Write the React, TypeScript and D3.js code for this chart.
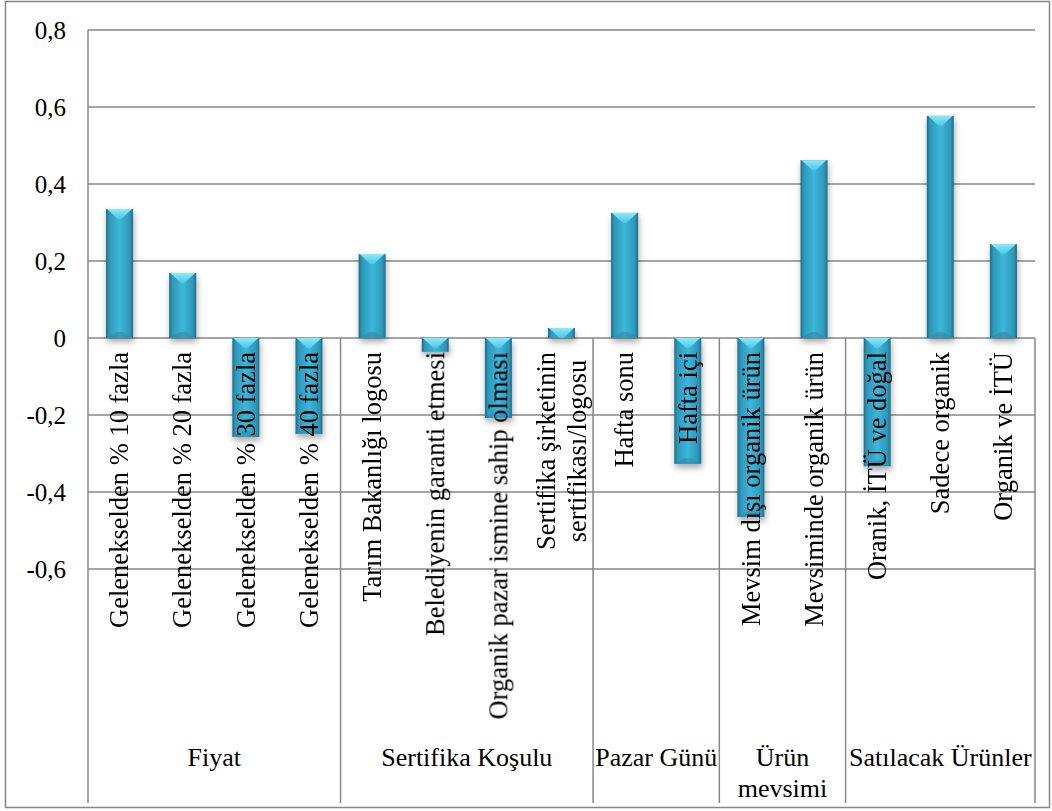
import React, { useMemo } from "react";
import * as d3 from "d3";

// Category groups (bottom level of the axis) and how many categories each spans
const groupLabels: string[][] = [
  ["Fiyat"],
  ["Sertifika Koşulu"],
  ["Pazar Günü"],
  ["Ürün", "mevsimi"],
  ["Satılacak Ürünler"],
];
const groupSizes = [4, 4, 2, 2, 3];

// Categories (rotated labels); inner arrays are wrapped lines
const categoryLabels: string[][] = [
  ["Gelenekselden % 10 fazla"],
  ["Gelenekselden % 20 fazla"],
  ["Gelenekselden % 30 fazla"],
  ["Gelenekselden % 40 fazla"],
  ["Tarım Bakanlığı logosu"],
  ["Belediyenin garanti etmesi"],
  ["Organik pazar ismine sahip olması"],
  ["Sertifika şirketinin", "sertifikası/logosu"],
  ["Hafta sonu"],
  ["Hafta içi"],
  ["Mevsim dışı organik ürün"],
  ["Mevsiminde organik ürün"],
  ["Oranik, İTÜ ve doğal"],
  ["Sadece organik"],
  ["Organik ve İTÜ"],
];

const values = [
  0.335, 0.169, -0.257, -0.249,
  0.218, -0.036, -0.208, 0.026,
  0.325, -0.327,
  -0.465, 0.462,
  -0.333, 0.577, 0.244,
];

const yTicks = [0.8, 0.6, 0.4, 0.2, 0, -0.2, -0.4, -0.6];

const W = 1052;
const H = 811;
const FONT = '"Liberation Serif", "Times New Roman", serif';
const GRID = "#878787";

const plotLeft = 88;
const plotRight = 1035;
const plotTop = 30;
const plotBottom = 569;
const dividerBottom = 803;
const labelEndY = 352;
const catFont = 26.5;
const catLineH = 31;
const groupFont = 26;
const groupBaseline = 766;
const groupLineH = 31;
const tickFont = 25;

const fmtTick = (v: number) => (v === 0 ? "0" : v.toFixed(1).replace(".", ","));

export default function App() {
  const y = useMemo(
    () => d3.scaleLinear().domain([-0.6, 0.8]).range([plotBottom, plotTop]),
    []
  );
  const x = useMemo(
    () =>
      d3
        .scaleBand<number>()
        .domain(d3.range(values.length))
        .range([plotLeft, plotRight])
        .paddingInner(0.572)
        .paddingOuter(0.286),
    []
  );
  const step = x.step();
  const bw = x.bandwidth();
  const y0 = y(0);

  // measure label lines so a multi-line block is centred per line and end-aligned as a block
  const measure = useMemo(() => {
    const ctx = document.createElement("canvas").getContext("2d")!;
    ctx.font = `${catFont}px "Liberation Serif"`;
    return (s: string) => ctx.measureText(s).width;
  }, []);

  // group boundaries in category index units
  const groupStarts: number[] = [];
  let acc = 0;
  groupSizes.forEach((n) => {
    groupStarts.push(acc);
    acc += n;
  });
  const boundaryX = (idx: number) => plotLeft + idx * step;
  const dividers = [...groupStarts, values.length].map(boundaryX);

  return (
    <svg
      width={W}
      height={H}
      viewBox={`0 0 ${W} ${H}`}
      style={{ position: "absolute", left: 0, top: 0, background: "#fff" }}
    >
      <defs>
        <linearGradient id="barBody" x1="0" x2="1" y1="0" y2="0">
          <stop offset="0%" stopColor="#1f6d87" />
          <stop offset="12%" stopColor="#2d98b9" />
          <stop offset="50%" stopColor="#3db7da" />
          <stop offset="88%" stopColor="#2d98b9" />
          <stop offset="100%" stopColor="#1f6d87" />
        </linearGradient>
        <linearGradient id="barCap" x1="0" x2="0" y1="0" y2="1">
          <stop offset="0%" stopColor="#8fe8fa" />
          <stop offset="100%" stopColor="#4cc8e6" />
        </linearGradient>
        <filter id="barShadow" x="-40%" y="-10%" width="180%" height="130%">
          <feDropShadow dx="1" dy="4" stdDeviation="3" floodColor="#000" floodOpacity="0.33" />
        </filter>
      </defs>

      <rect x={0} y={0} width={W} height={H} fill="#fff" />
      {/* outer chart border */}
      <rect x={5.5} y={1.5} width={1044} height={806} fill="none" stroke={GRID} strokeWidth={1.5} />

      {/* horizontal gridlines */}
      {yTicks.map((t) => (
        <line
          key={t}
          x1={plotLeft}
          x2={plotRight}
          y1={y(t)}
          y2={y(t)}
          stroke={GRID}
          strokeWidth={1.5}
        />
      ))}
      {/* value axis line */}
      <line x1={plotLeft} x2={plotLeft} y1={plotTop} y2={y0} stroke={GRID} strokeWidth={1.5} />
      {/* group dividers of the category axis */}
      {dividers.map((dx, i) => (
        <line key={i} x1={dx} x2={dx} y1={y0} y2={dividerBottom} stroke={GRID} strokeWidth={1.5} />
      ))}

      {/* tick labels */}
      {yTicks.map((t) => (
        <text
          key={t}
          x={66}
          y={y(t)}
          dy="0.34em"
          textAnchor="end"
          fontFamily={FONT}
          fontSize={tickFont}
          fill="#000"
        >
          {fmtTick(t)}
        </text>
      ))}

      {/* bars */}
      <g filter="url(#barShadow)">
        {values.map((v, i) => {
          const x0 = x(i)!;
          const top = y(Math.max(v, 0));
          const bot = y(Math.min(v, 0));
          const h = bot - top;
          const cap = Math.min(10, h);
          return (
            <g key={i}>
              <rect x={x0} y={top} width={bw} height={h} fill="url(#barBody)" />
              <polygon
                points={`${x0 + 1},${top} ${x0 + bw - 1},${top} ${x0 + bw * 0.56},${top + cap} ${x0 + bw * 0.44},${top + cap}`}
                fill="url(#barCap)"
              />
              {h > 14 && (
                <polygon
                  points={`${x0},${bot} ${x0 + bw},${bot} ${x0 + bw * 0.6},${bot - 6} ${x0 + bw * 0.4},${bot - 6}`}
                  fill="#2a8cab"
                  opacity={0.6}
                />
              )}
            </g>
          );
        })}
      </g>

      {/* rotated category labels */}
      {categoryLabels.map((lines, i) => {
        const cx = x(i)! + bw / 2;
        const maxW = d3.max(lines, measure) ?? 0;
        const cy = labelEndY + maxW / 2;
        return (
          <g key={i} transform={`translate(${cx},${cy}) rotate(-90)`}>
            {lines.map((ln, k) => (
              <text
                key={k}
                x={0}
                y={(k - (lines.length - 1) / 2) * catLineH}
                dy="0.33em"
                textAnchor="middle"
                fontFamily={FONT}
                fontSize={catFont}
                fill="#000"
              >
                {ln}
              </text>
            ))}
          </g>
        );
      })}

      {/* group labels */}
      {groupLabels.map((lines, g) => {
        const cx = (boundaryX(groupStarts[g]) + boundaryX(groupStarts[g] + groupSizes[g])) / 2;
        return (
          <text key={g} textAnchor="middle" fontFamily={FONT} fontSize={groupFont} fill="#000">
            {lines.map((ln, k) => (
              <tspan key={k} x={cx} y={groupBaseline + k * groupLineH}>
                {ln}
              </tspan>
            ))}
          </text>
        );
      })}
    </svg>
  );
}
